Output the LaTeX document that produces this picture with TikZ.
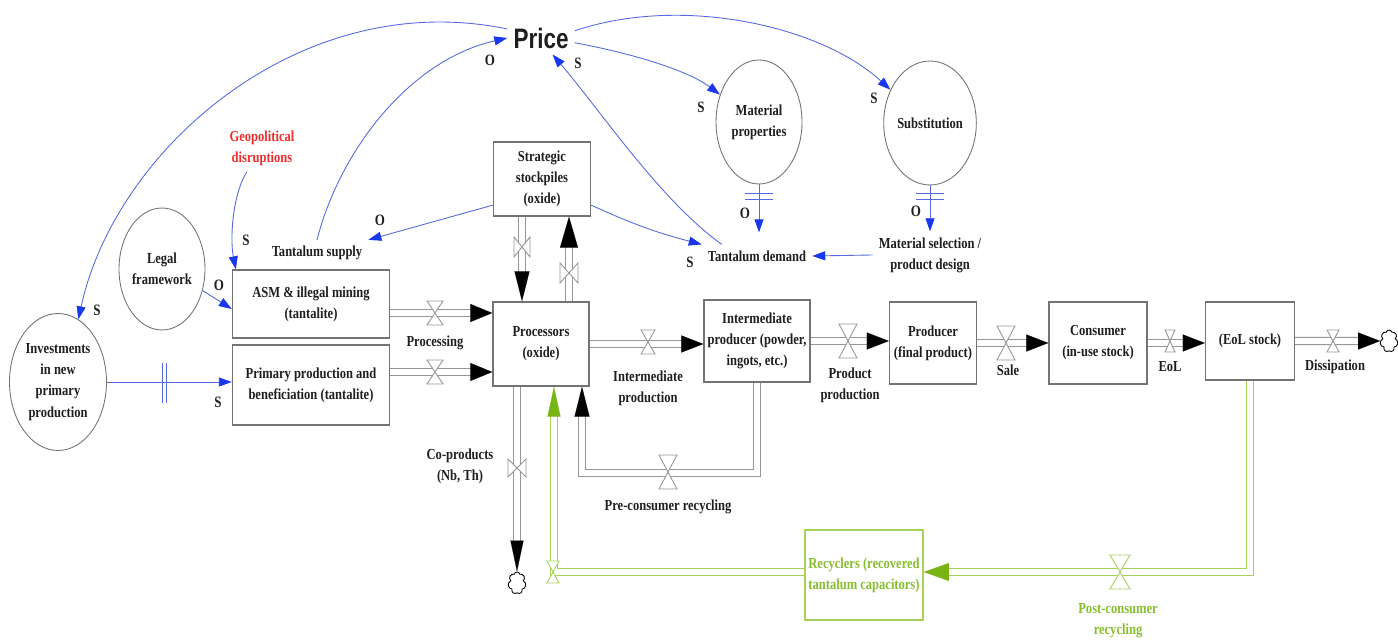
\documentclass[tikz,border=0pt]{standalone}
\usepackage{fontspec}
\setmainfont{Liberation Serif}[FakeStretch=0.82]
\newfontfamily\pricefont{Liberation Sans}[FakeStretch=0.8]
\usetikzlibrary{arrows.meta,shapes.geometric,shapes.symbols,calc}
\definecolor{lblue}{RGB}{85,105,225}
\definecolor{ablue}{RGB}{25,55,235}
\definecolor{pgray}{RGB}{150,150,150}
\definecolor{bgray}{RGB}{115,115,115}
\definecolor{ggreen}{RGB}{165,210,90}
\definecolor{agreen}{RGB}{120,180,20}
\definecolor{tgreen}{RGB}{135,190,45}
\definecolor{gred}{RGB}{235,45,45}
\definecolor{txt}{RGB}{30,30,30}
\newcommand\pflow[3]{\draw[#1] #3; \draw[#2] #3;}
\begin{document}
\begin{tikzpicture}[x=0.02cm,y=-0.02cm,
  every node/.style={font=\bfseries\fontsize{8.7}{12}\selectfont, text=txt, align=center},
  box/.style={draw=bgray, line width=0.8pt, rectangle, inner sep=2pt},
  oval/.style={draw=bgray, line width=0.5pt, ellipse, inner sep=0pt},
  lbl/.style={font=\bfseries\fontsize{9}{10}\selectfont, inner sep=0pt},
  infl/.style={draw=lblue, line width=0.5pt, -{Triangle[length=0.26cm,width=0.18cm,color=ablue,fill=ablue]}},
  delay/.style={draw=lblue, line width=0.5pt},
  pipe/.style={draw=pgray, line width=0.6pt, double=white, double distance=3.4pt},
  gpipe/.style={draw=ggreen, line width=0.6pt, double=white, double distance=3.4pt},
  ptip/.style 2 args={draw=white, line width=0.1pt, -{Triangle[length=#1,width=#2,color=black,fill=black]}},
  gtip/.style 2 args={draw=white, line width=0.1pt, -{Triangle[length=#1,width=#2,color=agreen,fill=agreen]}},
  sink/.style={cloud, draw=black, line width=0.5pt, cloud puffs=7, aspect=0.8, minimum width=0.36cm, minimum height=0.44cm, inner sep=0pt},
  pics/valve/.style n args={3}{code={\draw[draw=#3, fill=white, line width=0.5pt] (-#1,-#2)--(#1,-#2)--(-#1,#2)--(#1,#2)--cycle;}}
]
\useasboundingbox (0,0) rectangle (1398,644);

% ---------- stocks ----------
\node[box, minimum width=1.94cm, minimum height=1.48cm] (stock) at (542,179) {Strategic\\stockpiles\\(oxide)};
\node[box, minimum width=1.92cm, minimum height=1.68cm] (proc) at (541,344) {Processors\\(oxide)};
\node[box, minimum width=3.14cm, minimum height=1.36cm] (asm) at (311,304) {ASM \& illegal mining\\(tantalite)};
\node[box, minimum width=3.14cm, minimum height=1.6cm] (prim) at (311,385) {Primary production and\\beneficiation (tantalite)};
\node[box, minimum width=2.08cm, minimum height=1.64cm] (inter) at (757,341) {Intermediate\\producer (powder,\\ingots, etc.)};
\node[box, minimum width=1.74cm, minimum height=1.64cm] (prod) at (933,343) {Producer\\(final product)};
\node[box, minimum width=1.96cm, minimum height=1.64cm] (cons) at (1098,343) {Consumer\\(in-use stock)};
\node[box, minimum width=1.78cm, minimum height=1.56cm] (eol) at (1250,341) {(EoL stock)};
\node[box, draw=ggreen, text=tgreen, minimum width=2.36cm, minimum height=1.8cm] (recyc) at (864,575) {Recyclers (recovered\\tantalum capacitors)};

% ---------- auxiliaries ----------
\node[oval, minimum width=1.72cm, minimum height=2.48cm] (matprop) at (759,122) {Material\\properties};
\node[oval, minimum width=1.72cm, minimum height=2.48cm] (subst) at (930,123) {Substitution};
\node[oval, minimum width=1.72cm, minimum height=2.44cm] (legal) at (162,269) {Legal\\framework};
\node[oval, minimum width=1.94cm, minimum height=2.74cm] (invest) at (58,382) {Investments\\in new\\primary\\production};

\node (price) at (541,38) {\pricefont\fontsize{16}{18}\selectfont Price};
\node (tsupply) at (317,253) {Tantalum supply};
\node (tdemand) at (757,256) {Tantalum demand};
\node (matsel) at (930,255) {Material selection /\\product design};
\node[text=gred] (geo) at (262,148) {Geopolitical\\disruptions};

\node[sink] (sink1) at (1389,341) {};
\node[sink] (sink2) at (517,583) {};

% ---------- material flows ----------
\pflow{pipe, shorten >=0.4cm}{ptip={0.44cm}{0.36cm}}{($(asm.east)+(0,9)$) -- ($(asm.east -| proc.west)+(0,9)$)}
\pflow{pipe, shorten >=0.4cm}{ptip={0.44cm}{0.36cm}}{($(prim.east)+(0,-13)$) -- ($(prim.east -| proc.west)+(0,-13)$)}
\pflow{pipe, shorten >=0.4cm}{ptip={0.44cm}{0.34cm}}{(proc.east) -- (proc.east -| inter.west)}
\pflow{pipe, shorten >=0.4cm}{ptip={0.44cm}{0.34cm}}{(inter.east) -- (inter.east -| prod.west)}
\pflow{pipe, shorten >=0.4cm}{ptip={0.44cm}{0.34cm}}{(prod.east) -- (prod.east -| cons.west)}
\pflow{pipe, shorten >=0.4cm}{ptip={0.44cm}{0.34cm}}{(cons.east) -- (cons.east -| eol.west)}
\pflow{pipe, shorten >=0.4cm}{ptip={0.44cm}{0.34cm}}{(eol.east) -- (sink1.west)}
\pflow{pipe, shorten >=0.56cm}{ptip={0.6cm}{0.3cm}}{($(stock.south)+(-20,0)$) -- ($(proc.north -| stock.south)+(-20,0)$)}
\pflow{pipe, shorten >=0.58cm}{ptip={0.62cm}{0.36cm}}{($(proc.north)+(28,0)$) -- ($(proc.north |- stock.south)+(28,0)$)}
\pflow{pipe, shorten >=0.58cm}{ptip={0.62cm}{0.26cm}}{($(proc.south)+(-24,0)$) -- (sink2.north)}
\pflow{pipe, shorten >=0.56cm}{ptip={0.6cm}{0.3cm}}{(inter.south) |- ($(proc.south)+(41,86)$) -- ($(proc.south)+(41,0)$)}
\pflow{gpipe, shorten >=0.46cm}{gtip={0.5cm}{0.36cm}}{(eol.south) |- ($(recyc.east)+(0,-3)$)}
\pflow{gpipe, shorten >=0.56cm}{gtip={0.6cm}{0.26cm}}{($(recyc.west)+(0,-3)$) -| ($(proc.south)+(13,0)$)}

% ---------- valves ----------
\pic at (435,313) {valve={8}{12}{pgray}};
\pic at (435,372) {valve={8}{12}{pgray}};
\pic at (648,342) {valve={7}{12}{pgray}};
\pic at (848,341) {valve={9}{17}{pgray}};
\pic at (1006,343) {valve={9}{17}{pgray}};
\pic at (1170,341) {valve={5}{11}{pgray}};
\pic at (1333,341) {valve={6}{11}{pgray}};
\pic[rotate=90] at (522,247) {valve={10}{8}{pgray}};
\pic[rotate=90] at (569,273) {valve={10}{9}{pgray}};
\pic[rotate=90] at (517,468) {valve={9}{9}{pgray}};
\pic at (668,472) {valve={9}{17}{pgray}};
\pic at (1120,572) {valve={10}{17}{ggreen}};
\pic at (553,572) {valve={6}{11}{ggreen}};

% ---------- flow labels ----------
\node (fl1) at (435,343) {Processing};
\node (fl2) at (648,388) {Intermediate\\production};
\node (fl3) at (850,385) {Product\\production};
\node (fl4) at (1008,370) {Sale};
\node (fl5) at (1170,367) {EoL};
\node (fl6) at (1335,367) {Dissipation};
\node (fl7) at (460,466) {Co-products\\(Nb, Th)};
\node (fl8) at (668,507) {Pre-consumer recycling};
\node[text=tgreen] (fl9) at (1118,621) {Post-consumer\\recycling};

% ---------- influences ----------
\draw[infl] (price.165) .. controls (300,-14) and (115,150) .. (invest.72);
\draw[infl] (tsupply.north) .. controls (340,150) and (410,60) .. (price.west);
\draw[infl] ([xshift=-0.3cm]geo.south) .. controls (232,195) and (230,240) .. ([xshift=0.08cm]asm.north west);
\draw[infl] (legal.-28) -- ($(asm.west)+(0,5)$);
\draw[infl] (invest.east) -- (invest.east -| prim.west);
\draw[infl] (stock.208) -- (tsupply.north east);
\draw[infl] (stock.-28) to[bend right=5] (tdemand.north west);
\draw[infl] ([xshift=0.4cm]tdemand.north west) .. controls (660,200) and (600,110) .. (price.-55);
\draw[infl] (price.-8) .. controls (640,55) and (690,72) .. (matprop.145);
\draw[infl] (price.12) .. controls (680,-5) and (820,25) .. (subst.140);
\draw[infl, shorten >=0.24cm] (matprop.south) -- (matprop.south |- tdemand.north);
\draw[infl] (subst.south) -- (subst.south |- matsel.north);
\draw[infl] (matsel.west) -- (tdemand.east);

% delays
\draw[delay] (745,193) -- (773,193) (745,199) -- (773,199);
\draw[delay] (916,193) -- (944,193) (916,199) -- (944,199);
\draw[delay] (162,363) -- (162,403) (166,363) -- (166,403);

% polarity labels
\node[lbl] (p1) at (490,60) {O};
\node[lbl] (p2) at (578,63) {S};
\node[lbl] (p3) at (701,107) {S};
\node[lbl] (p4) at (874,98) {S};
\node[lbl] (p5) at (246,240) {S};
\node[lbl] (p6) at (380,220) {O};
\node[lbl] (p7) at (219,285) {O};
\node[lbl] (p8) at (97,310) {S};
\node[lbl] (p9) at (218,402) {S};
\node[lbl] (p10) at (690,262) {S};
\node[lbl] (p11) at (745,213) {O};
\node[lbl] (p12) at (916,211) {O};
\end{tikzpicture}
\end{document}
